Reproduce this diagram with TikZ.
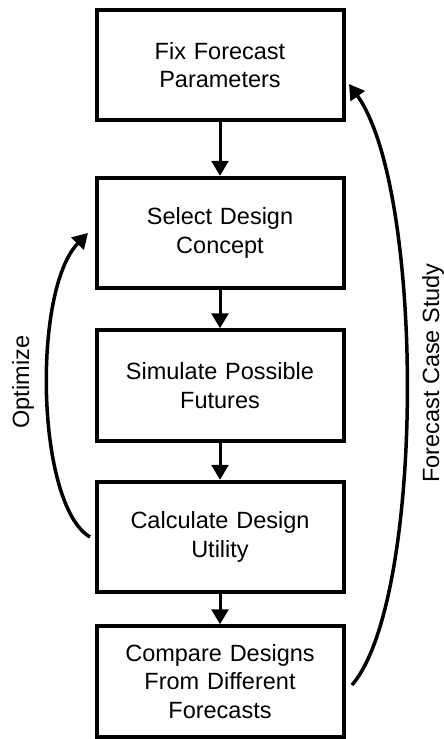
\documentclass[tikz,border=0pt]{standalone}
\usepackage{fontspec}
\setmainfont{Liberation Sans}
\usetikzlibrary{arrows.meta}
\tikzset{
  stepbox/.style={draw, line width=4pt, minimum width=247pt, minimum height=110.5pt,
    inner sep=0pt, text width=240pt, align=center,
    font=\fontsize{23.5}{28.5}\selectfont},
  flowarrow/.style={line width=3pt, -{Triangle[length=15pt,width=17pt]}},
  looparrow/.style={line width=3.5pt, -{Triangle[length=15pt,width=17pt]}},
  sidelabel/.style={rotate=90, inner sep=0pt, font=\fontsize{23.5}{28.5}\selectfont}
}
\begin{document}
\begin{tikzpicture}[x=1pt,y=-1pt]
\useasboundingbox (0,0) rectangle (444,739);
\node[stepbox] (b1) at (220,65) {Fix Forecast\\Parameters};
\node[stepbox] (b2) at (220,233) {Select Design\\Concept};
\node[stepbox] (b3) at (220,385.5) {Simulate Possible\\Futures};
\node[stepbox] (b4) at (220,537) {Calculate Design\\Utility};
\node[stepbox] (b5) at (220,681.5) {Compare Designs\\From Different\\Forecasts};
\draw[flowarrow] (b1.south) -- (b2.north);
\draw[flowarrow] (b2.south) -- (b3.north);
\draw[flowarrow] (b3.south) -- (b4.north);
\draw[flowarrow] (b4.south) -- (b5.north);
\coordinate (os) at (90,537);
\coordinate (oe) at (88,233);
\coordinate (fs) at (352,685);
\coordinate (fe) at (349,84);
\draw[looparrow] (os) .. controls (36,505) and (32,290) .. (oe);
\draw[looparrow] (fs) .. controls (425,600) and (425,190) .. (fe);
\node[sidelabel] (lo) at (23,382) {Optimize};
\node[sidelabel] (lf) at (433,373) {Forecast Case Study};
\end{tikzpicture}
\end{document}
